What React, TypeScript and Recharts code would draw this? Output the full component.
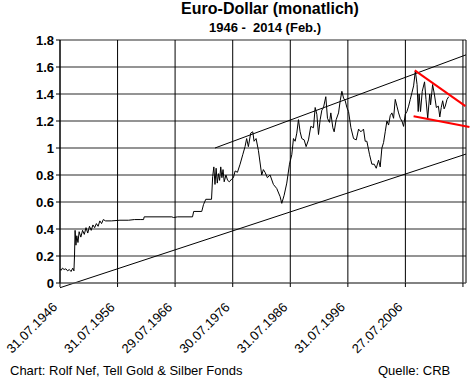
import { LineChart, Line, XAxis, YAxis, CartesianGrid, ReferenceLine } from 'recharts'

// month positions as decimal years, values in USD per EUR
const years = [
  1946.58, 1946.8, 1947.0, 1947.3, 1947.6, 1947.9, 1948.2, 1948.5, 1948.8, 1949.0,
  1949.1, 1949.2, 1949.35, 1949.5, 1949.7, 1949.9, 1950.2, 1950.5, 1950.8, 1951.1,
  1951.4, 1951.7, 1952.0, 1952.3, 1952.6, 1952.9, 1953.2, 1953.5, 1953.8, 1954.1,
  1954.5, 1955.5, 1957.0, 1958.5, 1959.5, 1960.5, 1961.1, 1961.2, 1966.0, 1966.3,
  1967.0, 1969.6, 1969.8, 1971.2, 1971.5, 1971.9, 1972.9, 1973.1, 1973.3, 1973.5,
  1973.7, 1973.9, 1974.1, 1974.3, 1974.5, 1974.7, 1974.9, 1975.1, 1975.4, 1975.7,
  1976.0, 1976.4, 1976.7, 1977.0, 1977.4, 1977.86, 1978.32, 1978.72, 1979.0, 1979.3,
  1979.7, 1980.06, 1980.29, 1980.64, 1981.05, 1981.62, 1981.9, 1982.2, 1982.6, 1983.07,
  1983.65, 1984.23, 1984.81, 1985.1, 1985.51, 1985.97, 1986.44, 1986.84, 1987.13, 1987.42,
  1987.71, 1988.0, 1988.29, 1988.58, 1988.99, 1989.33, 1989.74, 1990.14, 1990.61, 1990.9,
  1991.19, 1991.48, 1991.77, 1992.06, 1992.35, 1992.75, 1993.04, 1993.39, 1993.62, 1993.97,
  1994.2, 1994.55, 1994.96, 1995.25, 1995.54, 1995.83, 1996.12, 1996.41, 1996.7, 1997.11,
  1997.57, 1998.04, 1998.44, 1998.84, 1999.3, 1999.59, 1999.88, 2000.35, 2000.75, 2001.16,
  2001.51, 2001.91, 2002.2, 2002.49, 2002.78, 2003.07, 2003.36, 2003.65, 2003.94, 2004.23,
  2004.52, 2004.81, 2005.1, 2005.39, 2005.68, 2005.97, 2006.26, 2006.55, 2006.84, 2007.13,
  2007.42, 2007.71, 2008.0, 2008.3, 2008.6, 2008.8, 2008.95, 2009.2, 2009.5, 2009.9,
  2010.15, 2010.45, 2010.8, 2010.95, 2011.3, 2011.6, 2011.95, 2012.3, 2012.55, 2012.8,
  2013.05, 2013.3, 2013.5, 2013.8, 2014.1,
]
const rates = [
  0.10, 0.095, 0.11, 0.10, 0.105, 0.09, 0.10, 0.085, 0.11, 0.09,
  0.20, 0.39, 0.28, 0.35, 0.30, 0.38, 0.34, 0.39, 0.36, 0.41,
  0.37, 0.42, 0.39, 0.43, 0.41, 0.44, 0.42, 0.46, 0.44, 0.47,
  0.46, 0.46, 0.465, 0.465, 0.47, 0.47, 0.47, 0.49, 0.49, 0.485,
  0.49, 0.49, 0.53, 0.53, 0.58, 0.62, 0.62, 0.79, 0.86, 0.73,
  0.85, 0.74, 0.81, 0.76, 0.86, 0.78, 0.84, 0.75, 0.80, 0.76,
  0.75, 0.77, 0.78, 0.83, 0.82, 0.88, 0.95, 1.01, 1.07, 1.01,
  1.11, 1.12, 1.05, 1.07, 0.98, 0.80, 0.84, 0.82, 0.78, 0.80,
  0.73, 0.70, 0.64, 0.59, 0.65, 0.74, 0.88, 0.95, 1.07, 1.05,
  1.11, 1.21, 1.12, 1.07, 1.06, 1.01, 1.06, 1.16, 1.15, 1.30,
  1.25, 1.10, 1.21, 1.28, 1.30, 1.38, 1.22, 1.19, 1.26, 1.15,
  1.12, 1.21, 1.26, 1.35, 1.42, 1.37, 1.35, 1.30, 1.27, 1.15,
  1.07, 1.06, 1.14, 1.12, 1.14, 1.05, 1.05, 0.95, 0.88, 0.88,
  0.85, 0.91, 0.86, 1.00, 1.04, 1.12, 1.20, 1.17, 1.24, 1.26,
  1.22, 1.36, 1.31, 1.26, 1.22, 1.20, 1.16, 1.25, 1.27, 1.31,
  1.36, 1.41, 1.46, 1.57, 1.47, 1.27, 1.40, 1.27, 1.42, 1.49,
  1.36, 1.22, 1.40, 1.32, 1.47, 1.40, 1.30, 1.31, 1.23, 1.30,
  1.35, 1.29, 1.31, 1.36, 1.38,
]

const xTicks = [1946.58, 1956.58, 1966.57, 1976.58, 1986.58, 1996.58, 2006.57, 2016.57]
const xLabels = ['31.07.1946', '31.07.1956', '29.07.1966', '30.07.1976', '31.07.1986', '31.07.1996', '27.07.2006', '']
const yTicks = [0, 0.2, 0.4, 0.6, 0.8, 1, 1.2, 1.4, 1.6, 1.8]

// trend channel (black) and triangle (red), [x1, y1, x2, y2]
const channelTop = [1973.5, 1.0, 2017.1, 1.69]
const channelBottom = [1946.58, -0.035, 2017.1, 0.955]
const redTop = [2008.2, 1.575, 2017.0, 1.31]
const redBottom = [2008.0, 1.235, 2017.7, 1.155]

const data = years.map((y, i) => ({ year: y, rate: rates[i] }))

const font = '"Liberation Sans", Arial, sans-serif'

function XTick({ x, y, payload }: any) {
  const i = xTicks.indexOf(payload.value)
  const label = i >= 0 ? xLabels[i] : ''
  const ax = x - 2
  const ay = y + 19
  return (
    <text
      x={ax} y={ay}
      transform={`rotate(-45, ${ax}, ${ay})`}
      textAnchor="end" fontSize={13} fill="#000" fontFamily={font}
    >
      {label}
    </text>
  )
}

const seg = (s: number[]) => [{ x: s[0], y: s[1] }, { x: s[2], y: s[3] }]

export default function App() {
  return (
    <div style={{ position: 'absolute', left: 0, top: 0, width: 470, height: 380, background: '#fff', fontFamily: font }}>
      <div style={{ position: 'absolute', left: 0, width: 540, top: 0, textAlign: 'center', fontSize: 16, fontWeight: 'bold', lineHeight: '18px' }}>
        Euro-Dollar (monatlich)
      </div>
      <div style={{ position: 'absolute', left: 0, width: 530, top: 20, textAlign: 'center', fontSize: 13, fontWeight: 'bold', lineHeight: '16px', whiteSpace: 'pre' }}>
        {'1946 -  2014 (Feb.)'}
      </div>
      <LineChart width={470} height={380} data={data} margin={{ top: 40, right: 4, bottom: 0, left: 0 }}>
        <CartesianGrid vertical={false} stroke="#707070" strokeWidth={1.5} />
        <CartesianGrid horizontal={false} stroke="#000" strokeWidth={1} />
        <XAxis
          dataKey="year" type="number" domain={[1946.58, 2017.1]} allowDataOverflow
          ticks={xTicks} interval={0} height={97} tickSize={4}
          axisLine={{ stroke: '#707070' }} tickLine={{ stroke: '#000' }}
          tick={<XTick />}
        />
        <YAxis
          type="number" domain={[0, 1.8]} ticks={yTicks} interval={0} width={60} tickSize={4}
          axisLine={{ stroke: '#000' }} tickLine={{ stroke: '#000' }}
          tickFormatter={(v: number) => String(Math.round(v * 10) / 10)}
          tick={{ fontSize: 13, fontWeight: 'bold', fill: '#000', fontFamily: font }}
        />
        <ReferenceLine segment={seg(channelTop)} stroke="#000" strokeWidth={1} ifOverflow="visible" />
        <ReferenceLine segment={seg(channelBottom)} stroke="#000" strokeWidth={1} ifOverflow="visible" />
        <Line dataKey="rate" type="linear" stroke="#000" strokeWidth={1} dot={false} isAnimationActive={false} />
        <ReferenceLine segment={seg(redTop)} stroke="#ff0000" strokeWidth={2} ifOverflow="visible" />
        <ReferenceLine segment={seg(redBottom)} stroke="#ff0000" strokeWidth={2} ifOverflow="visible" />
      </LineChart>
      <div style={{ position: 'absolute', left: 10, top: 363, fontSize: 13, lineHeight: '16px' }}>
        Chart: Rolf Nef, Tell Gold &amp; Silber Fonds
      </div>
      <div style={{ position: 'absolute', left: 378, top: 363, fontSize: 13, lineHeight: '16px' }}>
        Quelle: CRB
      </div>
    </div>
  )
}
